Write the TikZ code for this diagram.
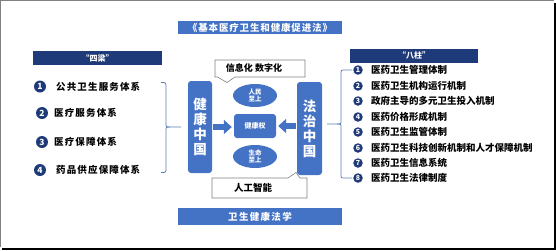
\documentclass[tikz,border=0pt]{standalone}
\usepackage{fontspec}
\setmainfont{Noto Sans CJK SC}
\usetikzlibrary{arrows.meta,shapes.geometric}
\definecolor{mblue}{HTML}{4472C4}
\definecolor{navy}{HTML}{1F3A78}
\definecolor{brk}{HTML}{5B7DB5}
\definecolor{cgray}{HTML}{808080}
\begin{document}
\begin{tikzpicture}[x=1pt,y=-1pt,
  bar/.style={fill=mblue,text=white,inner sep=0pt,font=\bfseries\fontsize{9.5}{10}\selectfont\addfontfeatures{LetterSpace=9}},
  hdr/.style={fill=navy,text=white,inner sep=0pt,minimum width=129pt,minimum height=14pt,font=\bfseries\fontsize{8}{9}\selectfont},
  pillar/.style={fill=mblue,text=white,rounded corners=3pt,inner sep=0pt,minimum width=24pt,minimum height=92pt,align=center,font=\bfseries\fontsize{13.5}{15}\selectfont},
  oval/.style={ellipse,fill=mblue,text=white,inner sep=0pt,minimum width=44pt,minimum height=23pt,align=center,font=\bfseries\fontsize{6.5}{7.5}\selectfont},
  numL/.style={circle,fill=navy,text=white,inner sep=0pt,minimum size=12pt,font=\bfseries\fontsize{8.5}{8.5}\selectfont},
  numR/.style={circle,fill=navy,text=white,inner sep=0pt,minimum size=9.5pt,font=\bfseries\fontsize{7}{7}\selectfont},
  itemL/.style={anchor=west,inner sep=0pt,font=\bfseries\fontsize{9.5}{10}\selectfont\addfontfeatures{LetterSpace=12}},
  itemR/.style={anchor=west,inner sep=0pt,font=\bfseries\fontsize{9.5}{10}\selectfont},
  brace/.style={draw=brk,line width=0.8pt},
  callout/.style={draw=cgray,line width=0.6pt,fill=white},
  calltext/.style={inner sep=0pt,font=\bfseries\fontsize{9}{10}\selectfont},
  barrow/.style={draw=mblue,line width=6pt,-{Triangle[length=8pt,width=14pt]}}
]
\useasboundingbox (0,0) rectangle (556,250);
% frame
\draw[cgray,line width=1.2pt] (0.6,247) -- (0.6,0.6) -- (553.5,0.6);
\draw[black,line width=2.4pt] (554.8,3) -- (554.8,248.8) -- (2,248.8);

% title & bottom bar
\node[bar,minimum width=164pt,minimum height=13pt] (title) at (260,27.5) {《基本医疗卫生和健康促进法》};
\node[bar,minimum width=164pt,minimum height=17pt,font=\bfseries\fontsize{9.5}{10}\selectfont\addfontfeatures{LetterSpace=14}] (law) at (260,216.5) {卫生健康法学};

% headers
\node[hdr] (sl) at (97.5,58) {“四梁”};
\node[hdr,minimum width=128pt] (bz) at (414,55.5) {“八柱”};

% left items
\node[numL] (n1) at (40,86.5) {1};
\node[itemL] (l1) at (56,86.5) {公共卫生服务体系};
\node[numL] (n2) at (42,113) {2};
\node[itemL] (l2) at (54,113) {医疗服务体系};
\node[numL] (n3) at (42,142) {3};
\node[itemL] (l3) at (54,142) {医疗保障体系};
\node[numL] (n4) at (40,170) {4};
\node[itemL] (l4) at (56,170) {药品供应保障体系};

% right items
\foreach \i/\y/\t in {1/70/医药卫生管理体制,2/86/医药卫生机构运行机制,3/101/政府主导的多元卫生投入机制,4/117/医药价格形成机制,5/132/医药卫生监管体制,6/148/医药卫生科技创新机制和人才保障机制,7/163/医药卫生信息系统,8/178/医药卫生法律制度}{
  \node[numR] (m\i) at (358,\y) {\i};
  \node[itemR] (r\i) at (371,\y) {\t};
}

% pillars
\node[pillar] (jk) at (200,127) {健\\康\\中\\国};
\node[pillar,minimum width=25pt,minimum height=93pt] (fz) at (309.5,128.5) {法\\治\\中\\国};

% center
\node[oval] (rm) at (255,95.5) {人民\\至上};
\node[fill=mblue,text=white,rounded corners=3pt,inner sep=0pt,minimum width=42pt,minimum height=24pt,font=\bfseries\fontsize{7}{8}\selectfont] (jkq) at (255,126) {健康权};
\node[oval] (sm) at (255,156.5) {生命\\至上};

\draw[barrow,shorten <=1pt,shorten >=2pt] (jk.east) -- (jkq.west |- jk.east);
\draw[barrow,shorten <=1pt,shorten >=2pt] (fz.west |- jkq.east) -- (jkq.east);

% callouts
\draw[callout] (215,60) -- (305,60) -- (305,77) -- (235,77) -- (227,82.5) -- (217.5,77) -- (215,77) -- cycle;
\node[calltext] (xx) at (254,68.5) {信息化 数字化};
\draw[callout] (212,178) -- (288,178) -- (296,172.5) -- (300,178) -- (307,178) -- (307,198) -- (212,198) -- cycle;
\node[calltext,font=\bfseries\fontsize{9.5}{10}\selectfont] (rg) at (253,188) {人工智能};

% left brace
\coordinate (lbt) at (161,82.5);
\coordinate (lbb) at (161,172.5);
\coordinate (lbm) at (181,127);
\draw[brace] (lbt) .. controls (166,82.5) .. (166,87) -- (166,123) .. controls (166,127) .. (170,127) -- (lbm);
\draw[brace] (lbb) .. controls (166,172.5) .. (166,168) -- (166,131) .. controls (166,127) .. (170,127);

% right brace
\coordinate (rbt) at (352,70);
\coordinate (rbb) at (352,178);
\coordinate (rbm) at (327,124);
\draw[brace] (rbt) -- (345,70) .. controls (341,70) .. (341,74) -- (341,120) .. controls (341,124) .. (337,124) -- (rbm);
\draw[brace] (rbb) -- (345,178) .. controls (341,178) .. (341,174) -- (341,128) .. controls (341,124) .. (337,124);
\end{tikzpicture}
\end{document}
